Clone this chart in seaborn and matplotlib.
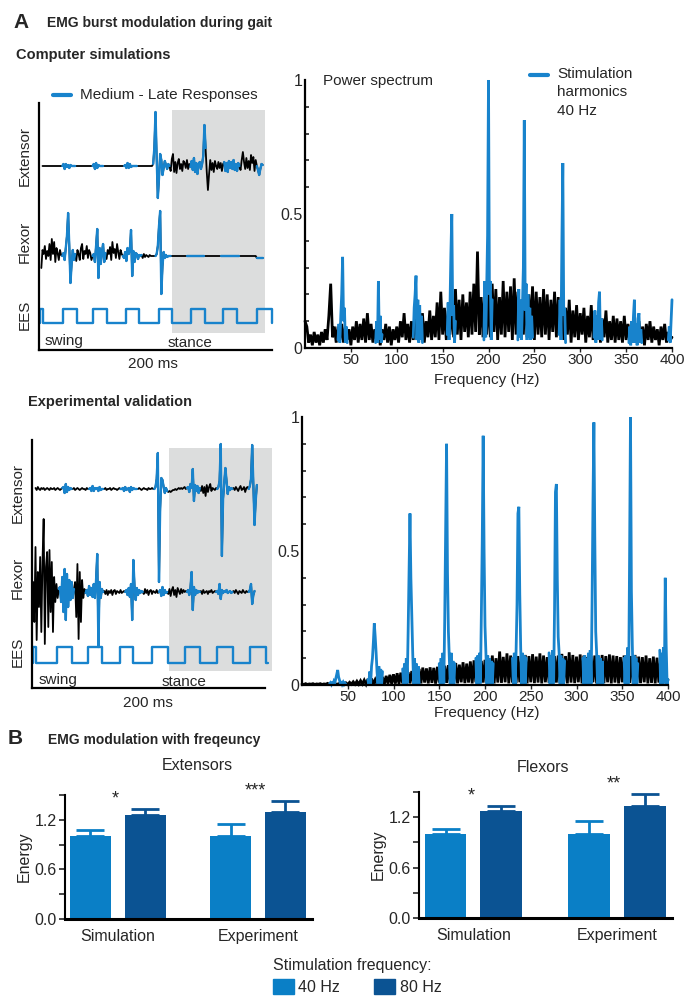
import numpy as np
import pandas as pd
import matplotlib.pyplot as plt
import seaborn as sns
from matplotlib.patches import Rectangle
from matplotlib.lines import Line2D

# colours
BLUE = '#1883cc'
C40 = '#0a7fc6'
C80 = '#0b5393'
GREY = '#dcdddd'

# ---------------- EMG traces, one sample per ms ----------------
# computer simulation, extensor (starts at 3 ms)
sim_ext_t0 = 3
sim_ext = [0, 0, 0, 0, 0, 0, 0, 0, 0, 0, 0, 0, 0, 0, 0, 0, 0,
           0, 2, -3, 2, -1, 1, -2, 1, 0, 0, 0, 0,
           0, 0, 0, 0, 0, 0, 0, 0, 0, 0, 0, 0, 0, 0,
           0, 2, -3, 3, -2, 1, 0, 0, 0, 0,
           0, 0, 0, 0, 0, 0, 0, 0, 0, 0, 0, 0, 0, 0, 0, 0, 0,
           0, 1, -2, 3, -2, 2, -1, 0, 0, 0, 0, 0,
           0, 0, 0, 0, 0, 0, 0, 0, 0, 0, 0, 0, 0,
           2, 18, 54, 8, -32, -12, 12, 6, -9, -2, 5, 1, -3, 2, 0,
           -5, 7, 12, -6, 4, -7, 3, 7, -3, 2, -5, 5, 3, -2, 6, -3, 2, -1,
           5, -4, 8, -6, 3, -8, 2, 4, -3, 2, 10, 41, 18, -6, -24,
           -8, 6, -4, 3, -6, 5, 0, -3, 4, -2, 3, -5, 2,
           4, -5, 3, -6, 5, -2, 4, -3, 6, -4, 2, -5, 3, 0,
           -4, 6, 14, 4, -3, 8, -2, 5, -4, 11, 3, 9, -5, 6, 0,
           -4, -9, -3, 2, 1]
sim_ext_blue = [(20, 31), (46, 55), (73, 84), (98, 112), (130, 143), (159, 172), (187, 192)]

# computer simulation, flexor (starts at 2 ms)
sim_flx_t0 = 2
sim_flx = [-12, 6, 2, 10, -3, 5, 0, 12, -4, 17, 2, 14, -6, 8, 3, -4, 6, 1, 0,
           3, -4, 8, 20, 43, 10, -27, -8, 6, -4, 2,
           -5, 6, 2, -4, 8, 12, -3, 5, 2, 10, -2, 6, 3, -4, 0,
           2, -6, 10, 27, -22, 8, -8, 4, 12, -6, 3,
           -3, 6, 2, 9, -4, 14, 3, 7, -2, 12, 4, -3, 6, 2, 0,
           -2, 4, -5, 8, 2, 6, 26, -20, 5, -6, 3, 2, -3, 1, 0, 1,
           -2, 2, -1, 1, 0, -1, 1, 0, 0, 0, 0, 0,
           2, 10, 30, 45, -38, -10, 4, -2, 1, -1, 0, 0, 0,
           0, 0, 0, 0, 0, 0, 0, 0, 0, 0, 0, 0, 0, 0, 0, 0, 0, 0, 0, 0,
           0, 0, 0, 0, 0, 0, 0, 0, 0, 0, 0, 0, 0, 0, 0, 0, 0, 0, 0, 0,
           0, 0, 0, 0, 0, 0, 0, 0, 0, 0, 0, 0, 0, 0, 0, 0, 0, 0, 0, 0,
           0, 0, 0, 0, 0, 0, 0, 0, 0, 0, 0, 0, 0,
           -2, -2, -2, -2, -2, -2]
sim_flx_blue = [(20, 31), (46, 57), (72, 88), (100, 113), (127, 142), (156, 172), (187, 192)]

# EES pulses (ms)
sim_ees_rise = [1, 21, 46.4, 74.6, 103, 130.4, 157.9, 187]
sim_ees_fall = [3.4, 32.6, 58.3, 85.8, 114, 142.4, 170, 200]

# experimental validation, extensor (starts at 3 ms)
exp_ext_t0 = 3
exp_ext = [1, -1, 2, 0, -1, 1, 0, 1, -1, 0, 1, 0, -1, 1, 0, 0, 1, -1, 0, 1, 0, -1, 0, 1,
           2, -4, 5, -3, 2, -1, 1, 0,
           0, 1, -1, 0, 1, 0, -1, 0, 1, 0, 0, -1, 1, 0, 0,
           1, -2, 3, -2, 1, 0, 1, -2, 2, -1, 0, 0,
           0, 1, -1, 0, 0, 1, -1, 0, 1, 0, 0, -1, 0, 1, 0,
           0, 1, -2, 2, -1, 0, 1, -3, 2, -1, 1, 0, 0, 0,
           0, 1, 0, -1, 0, 1, 0, 0, -1, 1, 0, 0, 1, 0, 0,
           2, 10, 36, -93, -20, 11, 9, 2, -4, 1, -2,
           -3, -2, -3, -2, -1, -1, 0, -1, 0, 1, 0, 1, 0, 1, 2, 0, 1,
           2, -3, 5, 1, 20, -12, 4, -2, 3, -4, 1,
           -2, 3, -4, 2, -7, 4, -3, 2, 5, -2, 1, 0, -1, 1, 0,
           2, 8, 45, -67, -10, 6, 21, 8, -5, 2, -1, 1, 0,
           1, -1, 2, 0, -2, 1, 3, -1, 0, 2, -3, 1, 2, 0,
           3, 10, 44, 5, -36, -12, 4]
exp_ext_blue = [(26, 34), (49, 61), (76, 90), (105, 116), (133, 144), (159, 172), (186, 193)]

# experimental validation, flexor (starts at 1 ms)
exp_flx_t0 = 1
exp_flx = [10, -30, 45, -48, 20, -15, 35, -40, 30, 73, -52, 25, 40, -35, 42, -20, 30, -40, 15, -10, 8, -6, 3,
           5, -10, 15, -20, 23, -28, 18, -15, 12, -8, 10, -6, 3,
           10, -25, 28, -47, 20, -30, 12, -6, 3, -1,
           2, -4, 6, -3, 4, -5, 8, -6, 12, 38, -55, 10, -6, 3, 0,
           1, -2, 2, -3, 1, -1, 2, -3, 1, 2, -2, 1, 0, -1, 2, -1, 0, 1, 0,
           2, -3, 4, -5, 8, -28, 32, 6, -8, 4, -3, 2, -1, 1, 0,
           -2, 3, -1, 2, -3, 1, 2, -2, 1, 0, -1, 2, -1, 0,
           2, -4, 5, -3, 2, -1, 0,
           -2, 3, -4, 2, 5, -3, 2, -5, 4, 1, -2, 3, -1, 2, 0, 1, 0,
           2, -3, 4, 20, -18, 5, -3, 2, -1, 1, 0,
           1, -2, 2, -1, 0, 1, -2, 1, 0, 2, -1, 0, 1, 0,
           1, -2, 8, -7, 2, -1, 1, 0, 2, -1, 0, 1, -1, 0,
           1, -1, 2, 0, -2, 1, 0, -1, 2, 0, -1, 1, 0, 0,
           2, 8, -12, -3, 1]
exp_flx_blue = [(23, 36), (46, 61), (80, 95), (109, 116), (133, 144), (158, 172), (186, 191)]

exp_ees_rise = [1, 21.2, 48.3, 75.5, 102.7, 131.3, 158.5, 187]
exp_ees_fall = [3.4, 34, 59.8, 86.9, 117, 144.1, 172.7, 201]

# ---------------- power spectra ----------------
# simulation, black trace every 2 Hz from 0 to 400 Hz
sim_spec = [0.10, 0.08, 0.02, 0.05, 0.01, 0.06, 0.02, 0.05, 0.01, 0.06,
            0.02, 0.07, 0.03, 0.12, 0.24, 0.04, 0.08, 0.02, 0.08, 0.03,
            0.09, 0.02, 0.08, 0.03, 0.07, 0.01, 0.08, 0.03, 0.10, 0.02,
            0.09, 0.03, 0.11, 0.02, 0.13, 0.03, 0.09, 0.02, 0.07, 0.03,
            0.08, 0.01, 0.07, 0.03, 0.09, 0.02, 0.08, 0.01, 0.07, 0.03,
            0.08, 0.02, 0.10, 0.04, 0.13, 0.03, 0.09, 0.02, 0.10, 0.03,
            0.12, 0.03, 0.09, 0.04, 0.13, 0.02, 0.10, 0.04, 0.14, 0.03,
            0.12, 0.04, 0.17, 0.03, 0.21, 0.05, 0.15, 0.03, 0.14, 0.05,
            0.16, 0.04, 0.22, 0.05, 0.18, 0.03, 0.20, 0.06, 0.17, 0.04,
            0.21, 0.05, 0.24, 0.06, 0.36, 0.05, 0.19, 0.04, 0.22, 0.05,
            0.20, 0.04, 0.24, 0.06, 0.22, 0.03, 0.19, 0.05, 0.25, 0.04,
            0.21, 0.06, 0.23, 0.03, 0.26, 0.05, 0.21, 0.04, 0.18, 0.05,
            0.22, 0.04, 0.20, 0.06, 0.23, 0.03, 0.21, 0.05, 0.19, 0.04,
            0.22, 0.05, 0.20, 0.03, 0.18, 0.06, 0.21, 0.04, 0.19, 0.05,
            0.17, 0.03, 0.15, 0.05, 0.18, 0.02, 0.14, 0.04, 0.16, 0.03,
            0.13, 0.05, 0.15, 0.02, 0.12, 0.04, 0.16, 0.03, 0.11, 0.04,
            0.13, 0.02, 0.11, 0.04, 0.14, 0.02, 0.10, 0.03, 0.12, 0.02,
            0.11, 0.03, 0.10, 0.02, 0.12, 0.03, 0.09, 0.02, 0.10, 0.03,
            0.09, 0.02, 0.10, 0.03, 0.08, 0.01, 0.09, 0.03, 0.10, 0.02,
            0.08, 0.03, 0.07, 0.01, 0.08, 0.03, 0.09, 0.02, 0.06, 0.03,
            0.04]
# simulation, blue harmonic windows, 1 Hz steps
sim_harm_start = [36, 77, 118, 155, 195, 232, 277, 315, 353, 396]
sim_harm_vals = [
    [0.03, 0.09, 0.02, 0.12, 0.20, 0.34, 0.10, 0.15, 0.02, 0.08, 0.02],
    [0.02, 0.10, 0.02, 0.25, 0.03, 0.12, 0.02, 0.05],
    [0.04, 0.15, 0.20, 0.27, 0.03, 0.18, 0.02, 0.16, 0.03, 0.12, 0.02],
    [0.05, 0.17, 0.03, 0.15, 0.35, 0.50, 0.12, 0.16, 0.02, 0.10],
    [0.03, 0.25, 0.04, 0.22, 0.42, 1.00, 0.20, 0.25, 0.03, 0.18],
    [0.03, 0.22, 0.04, 0.18, 0.03, 0.16, 0.30, 0.85, 0.14, 0.24, 0.03, 0.20, 0.04, 0.15, 0.03, 0.12, 0.04],
    [0.05, 0.18, 0.03, 0.40, 0.69, 0.12, 0.15, 0.02],
    [0.04, 0.14, 0.02, 0.12, 0.03, 0.17, 0.21, 0.03, 0.11, 0.03],
    [0.02, 0.08, 0.01, 0.10, 0.02, 0.12, 0.18, 0.02, 0.09, 0.01, 0.11, 0.13, 0.02, 0.07, 0.02],
    [0.03, 0.08, 0.02, 0.10, 0.18],
]

# experiment, black trace every 2 Hz
exp_spec = [0.004, 0.002, 0.005, 0.002, 0.004, 0.003, 0.005, 0.002, 0.004, 0.003,
            0.005, 0.002, 0.004, 0.003, 0.006, 0.002, 0.005, 0.003, 0.006, 0.002,
            0.005, 0.002, 0.006, 0.002, 0.008, 0.002, 0.010, 0.003, 0.012, 0.003,
            0.014, 0.003, 0.016, 0.004, 0.018, 0.003, 0.022, 0.004, 0.024, 0.004,
            0.020, 0.003, 0.028, 0.004, 0.030, 0.003, 0.034, 0.005, 0.038, 0.004,
            0.040, 0.005, 0.044, 0.004, 0.046, 0.006, 0.050, 0.004, 0.048, 0.006,
            0.052, 0.005, 0.056, 0.008, 0.060, 0.006, 0.065, 0.009, 0.062, 0.006,
            0.066, 0.008, 0.064, 0.005, 0.068, 0.009, 0.070, 0.006, 0.072, 0.008,
            0.074, 0.006, 0.078, 0.009, 0.082, 0.006, 0.076, 0.010, 0.085, 0.007,
            0.080, 0.009, 0.088, 0.006, 0.092, 0.010, 0.096, 0.007, 0.090, 0.009,
            0.094, 0.007, 0.098, 0.010, 0.110, 0.006, 0.100, 0.009, 0.125, 0.008,
            0.105, 0.010, 0.118, 0.006, 0.110, 0.009, 0.102, 0.007, 0.108, 0.010,
            0.104, 0.008, 0.112, 0.006, 0.108, 0.010, 0.115, 0.007, 0.106, 0.009,
            0.118, 0.006, 0.110, 0.010, 0.104, 0.008, 0.112, 0.006, 0.108, 0.009,
            0.110, 0.007, 0.116, 0.010, 0.108, 0.006, 0.122, 0.009, 0.112, 0.007,
            0.106, 0.010, 0.114, 0.006, 0.110, 0.008, 0.104, 0.007, 0.108, 0.010,
            0.110, 0.006, 0.106, 0.009, 0.112, 0.007, 0.108, 0.010, 0.114, 0.006,
            0.110, 0.009, 0.108, 0.006, 0.104, 0.010, 0.110, 0.007, 0.106, 0.008,
            0.108, 0.006, 0.112, 0.009, 0.106, 0.007, 0.104, 0.010, 0.110, 0.006,
            0.100, 0.008, 0.106, 0.006, 0.102, 0.009, 0.098, 0.007, 0.100, 0.006,
            0.020]
exp_harm_start = [30, 72, 110, 150, 190, 230, 270, 307, 352, 391]
exp_harm_vals = [
    [0.003, 0.008, 0.002, 0.012, 0.003, 0.015, 0.010, 0.025, 0.040, 0.056, 0.030, 0.018, 0.004, 0.014, 0.003, 0.010, 0.002, 0.007, 0.002],
    [0.02, 0.003, 0.05, 0.004, 0.07, 0.10, 0.16, 0.23, 0.18, 0.12, 0.05, 0.004, 0.07, 0.003, 0.06, 0.002, 0.05],
    [0.06, 0.004, 0.08, 0.005, 0.10, 0.006, 0.20, 0.42, 0.64, 0.40, 0.26, 0.12, 0.005, 0.10, 0.004, 0.08, 0.003, 0.07, 0.004],
    [0.08, 0.004, 0.10, 0.005, 0.12, 0.006, 0.25, 0.58, 0.90, 0.42, 0.20, 0.10, 0.005, 0.12, 0.004, 0.09, 0.003, 0.08],
    [0.10, 0.005, 0.11, 0.004, 0.12, 0.006, 0.26, 0.54, 0.93, 0.50, 0.22, 0.12, 0.005, 0.11, 0.004, 0.10, 0.003, 0.09, 0.005, 0.08],
    [0.10, 0.005, 0.12, 0.004, 0.13, 0.30, 0.64, 0.665, 0.34, 0.14, 0.005, 0.12, 0.004, 0.11, 0.005, 0.10],
    [0.12, 0.005, 0.11, 0.004, 0.13, 0.006, 0.28, 0.72, 0.75, 0.40, 0.18, 0.12, 0.005, 0.11, 0.004, 0.10, 0.005, 0.09],
    [0.10, 0.004, 0.11, 0.005, 0.10, 0.006, 0.12, 0.004, 0.13, 0.005, 0.30, 0.68, 0.98, 0.55, 0.20, 0.12, 0.005, 0.11, 0.004, 0.10, 0.005, 0.09, 0.004],
    [0.10, 0.005, 0.11, 0.004, 0.14, 0.006, 0.47, 1.00, 0.35, 0.15, 0.005, 0.11, 0.004, 0.10, 0.005, 0.08],
    [0.13, 0.004, 0.12, 0.005, 0.14, 0.006, 0.40, 0.15, 0.004, 0.02],
]

# ---------------- bar charts (energy, normalised) ----------------
conds = ['Simulation', 'Experiment']
freqs = ['40 Hz', '80 Hz']
ext_40 = [1.00, 1.00]
ext_80 = [1.26, 1.30]
ext_40_err = [0.08, 0.15]
ext_80_err = [0.07, 0.13]
flx_40 = [1.00, 1.00]
flx_80 = [1.27, 1.33]
flx_40_err = [0.06, 0.15]
flx_80_err = [0.06, 0.15]
ext_stars = ['*', '***']
flx_stars = ['*', '**']

# ---------------- figure ----------------
sns.set_style('white')
plt.rcParams['font.family'] = ['Liberation Sans', 'DejaVu Sans']

W, H = 685, 997
fig = plt.figure(figsize=(W / 100, H / 100), dpi=100)


def box(x0, y0, x1, y1):
    return [x0 / W, 1 - y1 / H, (x1 - x0) / W, (y1 - y0) / H]


def ftext(px, py, s, **kw):
    fig.text(px / W, 1 - py / H, s, **kw)


def draw_trace(ax, t0, vals, windows, offset):
    t = t0 + np.arange(len(vals))
    y = np.asarray(vals, dtype=float) + offset
    sns.lineplot(x=t, y=y, color='black', lw=1.3, sort=False, estimator=None, ax=ax)
    for a, b in windows:
        m = (t >= a) & (t <= b)
        sns.lineplot(x=t[m], y=y[m], color=BLUE, lw=1.7, sort=False, estimator=None, ax=ax)


def draw_ees(ax, rise, fall, hi, lo, end):
    xs, ys = [], []
    for r, f in zip(rise, fall):
        xs += [r, r, f, f]
        ys += [lo, hi, hi, lo]
    xs.append(end)
    ys.append(lo)
    ax.plot(xs, ys, color=BLUE, lw=1.7, clip_on=False)


def trace_axes(rect, ylim, shade):
    ax = fig.add_axes(rect)
    ax.add_patch(Rectangle((shade[0], shade[2]), shade[1] - shade[0], shade[3] - shade[2],
                           color=GREY, lw=0, zorder=0, clip_on=False))
    ax.set_xlim(0, 200)
    ax.set_ylim(*ylim)
    ax.set_xticks([])
    ax.set_yticks([])
    for s in ['top', 'right']:
        ax.spines[s].set_visible(False)
    for s in ['left', 'bottom']:
        ax.spines[s].set_linewidth(1.6)
        ax.spines[s].set_color('black')
    ax.patch.set_alpha(0)
    return ax


def spectrum_axes(rect, spec, hstart, hvals):
    ax = fig.add_axes(rect)
    f = np.arange(0, 401, 2)
    sns.lineplot(x=f, y=spec, color='black', lw=2.0, sort=False, estimator=None, ax=ax)
    for s0, v in zip(hstart, hvals):
        sns.lineplot(x=s0 + np.arange(len(v)), y=v, color=BLUE, lw=2.0,
                     sort=False, estimator=None, ax=ax)
    for ln in ax.lines:
        ln.set_clip_on(False)
        ln.set_solid_joinstyle('miter')
    ax.set_xlim(0, 400)
    ax.set_ylim(0, 1)
    ax.set_xticks(np.arange(50, 401, 50))
    ax.set_yticks([0, 0.5, 1])
    ax.set_yticklabels(['0', '0.5', '1'])
    ax.set_yticks(np.arange(0.1, 1.0, 0.1), minor=True)
    ax.tick_params(axis='y', which='major', direction='in', length=5, width=1.2, labelsize=11.5, pad=2)
    ax.tick_params(axis='y', which='minor', direction='in', length=3, width=1.2, left=True)
    ax.tick_params(axis='x', direction='out', length=3, width=1, labelsize=11, pad=0.5, bottom=True)
    for s in ['top', 'right']:
        ax.spines[s].set_visible(False)
    for s in ['left', 'bottom']:
        ax.spines[s].set_linewidth(1.6)
        ax.spines[s].set_color('black')
    ax.set_xlabel('')
    ax.set_ylabel('')
    ax.patch.set_alpha(0)
    return ax


def bar_axes(rect, v40, v80, e40, e80, stars, xlim):
    ax = fig.add_axes(rect)
    df = pd.DataFrame({'cond': conds * 2,
                       'freq': [freqs[0]] * 2 + [freqs[1]] * 2,
                       'energy': v40 + v80})
    sns.barplot(data=df, x='cond', y='energy', hue='freq', palette=[C40, C80], saturation=1,
                width=0.78, gap=0.25, legend=False, ax=ax, linewidth=0)
    for cont, errs in zip(ax.containers, [e40, e80]):
        for bar, e in zip(cont, errs):
            x = bar.get_x() + bar.get_width() / 2
            ax.errorbar(x, bar.get_height(), yerr=[[0], [e]], fmt='none',
                        ecolor=bar.get_facecolor(), elinewidth=2, capsize=10, capthick=2)
    for i, s in enumerate(stars):
        x = ax.containers[0][i].get_x() + ax.containers[0][i].get_width()
        top = v80[i] + e80[i]
        ax.text(x + 0.03, top + 0.02, s, ha='center', va='bottom', fontsize=13)
    ax.set_xlim(*xlim)
    ax.set_ylim(0, 1.5)
    ax.set_yticks([0, 0.6, 1.2])
    ax.set_yticklabels(['0.0', '0.6', '1.2'])
    ax.set_yticks([0.3, 0.9, 1.5], minor=True)
    ax.tick_params(axis='y', which='major', direction='out', length=4, width=1.2, labelsize=11.5, pad=2, left=True)
    ax.tick_params(axis='y', which='minor', direction='out', length=4, width=1.2, left=True)
    ax.tick_params(axis='x', length=0, labelsize=11.5, pad=7)
    ax.set_xlabel('')
    ax.set_ylabel('Energy', fontsize=11.5, labelpad=2)
    for s in ['top', 'right']:
        ax.spines[s].set_visible(False)
    ax.spines['left'].set_linewidth(1.5)
    ax.spines['bottom'].set_linewidth(2.2)
    for s in ['left', 'bottom']:
        ax.spines[s].set_color('black')
    ax.patch.set_alpha(0)
    return ax


# ---- panel A: headings ----
ftext(13, 23, 'A', fontsize=15, fontweight='bold', va='center')
ftext(47, 23, 'EMG burst modulation during gait', fontsize=10, fontweight='bold', va='center')
ftext(16, 55, 'Computer simulations', fontsize=10.5, fontweight='bold', va='center')
ftext(28, 402, 'Experimental validation', fontsize=10.5, fontweight='bold', va='center')

# ---- simulated traces ----
ax = trace_axes(box(39, 103, 272, 350), (-184, 63), (114, 194, -167, 56))
draw_trace(ax, sim_ext_t0, sim_ext, sim_ext_blue, 0)
draw_trace(ax, sim_flx_t0, sim_flx, sim_flx_blue, -90)
draw_ees(ax, sim_ees_rise, sim_ees_fall, -143, -157, 200)
fig.add_artist(Line2D([53 / W, 71 / W], [1 - 95 / H, 1 - 95 / H], color=BLUE, lw=3))
ftext(80, 95, 'Medium - Late Responses', fontsize=11, va='center')
ftext(25, 156, 'Extensor', fontsize=11, rotation=90, ha='center', va='center')
ftext(25, 242, 'Flexor', fontsize=11, rotation=90, ha='center', va='center')
ftext(25, 315, 'EES', fontsize=11, rotation=90, ha='center', va='center')
ftext(45, 341, 'swing', fontsize=11, va='center')
ftext(168, 343, 'stance', fontsize=11, va='center')
ftext(153, 364, '200 ms', fontsize=11, ha='center', va='center')

# ---- experimental traces ----
ax = trace_axes(box(32, 440, 265, 688), (-199, 49), (117.6, 206, -182, 41))
draw_trace(ax, exp_ext_t0, exp_ext, exp_ext_blue, 0)
draw_trace(ax, exp_flx_t0, exp_flx, exp_flx_blue, -103)
draw_ees(ax, exp_ees_rise, exp_ees_fall, -158, -174, 202.5)
ftext(18, 493, 'Extensor', fontsize=11, rotation=90, ha='center', va='center')
ftext(18, 578, 'Flexor', fontsize=11, rotation=90, ha='center', va='center')
ftext(18, 652, 'EES', fontsize=11, rotation=90, ha='center', va='center')
ftext(39, 680, 'swing', fontsize=11, va='center')
ftext(162, 682, 'stance', fontsize=11, va='center')
ftext(148, 703, '200 ms', fontsize=11, ha='center', va='center')

# ---- spectra ----
spectrum_axes(box(305, 80, 672, 348), sim_spec, sim_harm_start, sim_harm_vals)
ftext(323, 81, 'Power spectrum', fontsize=11, va='center')
fig.add_artist(Line2D([530 / W, 548 / W], [1 - 75 / H, 1 - 75 / H], color=BLUE, lw=3))
ftext(557, 67, 'Stimulation\nharmonics\n40 Hz', fontsize=11, va='top', linespacing=1.4)
ftext(487, 380, 'Frequency (Hz)', fontsize=11, ha='center', va='center')

spectrum_axes(box(302, 417, 668, 685), exp_spec, exp_harm_start, exp_harm_vals)
ftext(487, 713, 'Frequency (Hz)', fontsize=11, ha='center', va='center')

# ---- panel B ----
ftext(8, 738, 'B', fontsize=15, fontweight='bold', va='center')
ftext(48, 740, 'EMG modulation with freqeuncy', fontsize=10, fontweight='bold', va='center')
ftext(197, 766, 'Extensors', fontsize=11.5, ha='center', va='center')
ftext(543, 768, 'Flexors', fontsize=11.5, ha='center', va='center')

bar_axes(box(65, 795, 312, 919), ext_40, ext_80, ext_40_err, ext_80_err, ext_stars, (-0.377, 1.387))
bar_axes(box(419, 792, 672, 918), flx_40, flx_80, flx_40_err, flx_80_err, flx_stars, (-0.38, 1.386))

# legend of panel B
ftext(273, 965, 'Stimulation frequency:', fontsize=11.5, va='center')
fig.add_artist(Rectangle((273 / W, 1 - 994 / H), 21 / W, 15 / H, color=C40, transform=fig.transFigure))
ftext(298, 987, '40 Hz', fontsize=11.5, va='center')
fig.add_artist(Rectangle((374 / W, 1 - 994 / H), 21 / W, 15 / H, color=C80, transform=fig.transFigure))
ftext(400, 987, '80 Hz', fontsize=11.5, va='center')

fig.savefig('out.png', dpi=100)
